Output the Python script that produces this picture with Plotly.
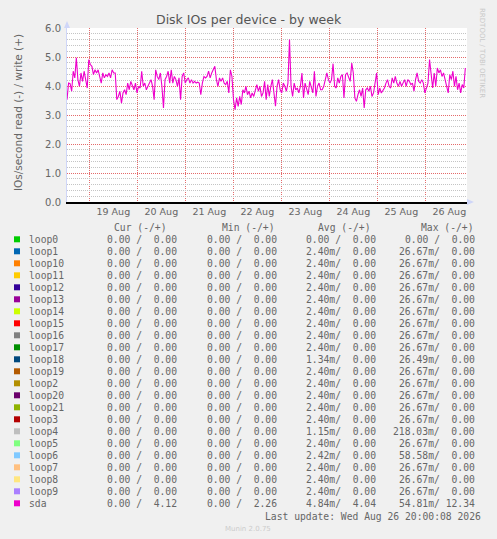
import pandas as pd
import plotly.graph_objects as go

# sda write IOs/second (read side is ~0 for every device)
sda_write = [
    3.53, 4.10, 4.08, 3.82, 4.51, 4.28, 4.97, 4.22, 3.99, 4.45, 4.16, 4.51, 4.22, 3.93,
    4.91, 4.74, 4.68, 4.39, 4.56, 4.45, 4.56, 4.28, 4.10, 4.45, 4.28, 4.39, 4.33, 4.45,
    4.28, 4.56, 4.45, 4.45, 3.53, 3.64, 3.82, 3.41, 3.76, 3.87, 3.70, 4.10, 3.87, 4.16,
    3.99, 3.87, 4.10, 3.76, 3.99, 3.93, 4.51, 3.99, 4.10, 3.87, 3.99, 4.10, 4.22, 3.99,
    3.53, 4.56, 4.33, 4.22, 4.45, 3.99, 3.24, 4.22, 4.33, 4.51, 4.10, 4.56, 4.10, 4.33,
    4.22, 3.99, 4.28, 3.53, 4.33, 4.45, 4.10, 4.22, 4.28, 4.10, 4.22,
    4.10, 4.16, 4.10, 4.13, 4.10, 3.70, 4.10, 4.33, 4.28, 4.33, 4.51, 4.28, 4.45, 4.56,
    4.68, 4.22, 3.99, 4.28, 4.16, 4.28, 4.10, 4.05, 4.16, 3.76, 4.56, 4.33, 3.53, 3.18,
    3.59, 3.30, 3.64, 3.36, 3.87, 3.76, 3.99, 3.70, 3.82, 3.59, 3.76, 3.64, 3.87, 4.05,
    3.82, 3.99, 3.64, 3.76, 4.16, 3.53, 4.05, 3.64, 3.99, 4.22, 3.76, 3.30, 3.99, 4.22,
    3.87, 3.76, 4.10, 3.99, 3.82, 4.10, 5.60, 3.99, 3.64, 4.10, 3.87, 3.93, 3.76, 3.99,
    4.45, 3.59, 4.10, 3.87, 3.70, 4.16, 3.93, 3.76, 4.51, 3.64, 3.99, 4.10, 3.87, 3.87,
    3.99, 4.22, 4.45, 4.22, 4.10,
    4.22, 4.77, 3.99, 3.93, 4.28, 4.10, 4.33, 4.39, 3.59, 4.39, 4.45, 4.28, 4.16, 4.79,
    4.45, 3.59, 3.47, 3.70, 3.87, 3.64, 3.93, 3.24, 3.87, 3.93, 3.82, 3.99, 3.64, 3.76,
    4.05, 4.45, 3.70, 3.93, 3.76, 3.87, 3.93, 4.10, 4.22, 3.99, 3.93, 4.28, 4.10, 4.33,
    4.10, 3.99, 4.16, 3.99, 4.10, 4.22, 3.99, 4.22, 4.16, 4.05, 4.10, 3.82, 4.22, 4.45,
    4.16, 4.10, 4.22, 4.10, 3.76, 3.93, 4.10, 4.91, 4.33, 3.93, 4.45, 3.99, 4.62, 4.45,
    4.56, 4.33, 4.45, 4.16, 3.99, 3.76, 4.39, 4.22, 4.51, 3.99, 4.33, 3.87, 4.10, 3.76,
    4.05, 3.93, 4.62,
]

devices = ["loop0", "loop1", "loop10", "loop11", "loop12", "loop13", "loop14", "loop15",
           "loop16", "loop17", "loop18", "loop19", "loop2", "loop20", "loop21", "loop3",
           "loop4", "loop5", "loop6", "loop7", "loop8", "loop9", "sda"]
colors = ["#00CC00", "#0066B3", "#FF8000", "#FFCC00", "#330099", "#990099", "#CCFF00",
          "#FF0000", "#808080", "#008F00", "#00487D", "#B35A00", "#B38F00", "#6B006B",
          "#8FB300", "#B30000", "#BEBEBE", "#80FF80", "#80C9FF", "#FFC080", "#FFE680",
          "#AA80FF", "#EE00CC"]
cur_col = ["0.00 /  0.00"] * 22 + ["0.00 /  4.12"]
min_col = ["0.00 /  0.00"] * 22 + ["0.00 /  2.26"]
avg_col = ["0.00 /  0.00"] + ["2.40m/  0.00"] * 9 + ["1.34m/  0.00"] + ["2.40m/  0.00"] * 5 + \
          ["1.15m/  0.00", "2.40m/  0.00", "2.42m/  0.00", "2.40m/  0.00", "2.40m/  0.00",
           "2.40m/  0.00", "4.84m/  4.04"]
max_col = ["0.00 /  0.00"] + ["26.67m/  0.00"] * 9 + ["26.49m/  0.00"] + ["26.67m/  0.00"] * 5 + \
          ["218.03m/  0.00", "26.67m/  0.00", "58.58m/  0.00", "26.67m/  0.00", "26.67m/  0.00",
           "26.67m/  0.00", "54.81m/ 12.34"]
headers = ["Cur (-/+)", "Min (-/+)", "Avg (-/+)", "Max (-/+)"]

font_col = "#666666"
W, H = 497, 539
L, R, T, B = 67, 467, 28, 202
major_grid = "#E46A6A"
minor_grid = "#C4C4C4"
grid_dash = "1px,1px"
x_range = ["2026-08-18 12:50", "2026-08-26 20:50"]


def px(x):
    return (x - L) / (R - L)


def py(y):
    return (B - y) / (B - T)


def nb(s):
    return s.replace(" ", "\u00a0")


times = pd.date_range("2026-08-18 12:50", "2026-08-26 20:00", periods=len(sda_write))

# minor grid positions (drawn on overlay axes), skipping the major ones
x_minor = [t for t in pd.date_range("2026-08-18 00:00", "2026-08-27 00:00", freq="6h") if t.hour != 0]
y_minor = [round(i * 0.2, 1) for i in range(31) if i % 5 != 0]

fig = go.Figure()
fig.add_trace(go.Scatter(x=[], y=[], xaxis="x2", yaxis="y2", showlegend=False,
                         hoverinfo="skip"))
fig.add_trace(go.Scatter(x=times, y=sda_write, mode="lines",
                         line=dict(color="#EE00CC", width=1.1), showlegend=False))

fig.update_layout(
    width=W, height=H,
    paper_bgcolor="#F0F0F0", plot_bgcolor="#FFFFFF",
    margin=dict(l=L, r=W - R, t=T, b=H - B),
    font=dict(family="DejaVu Sans", color=font_col, size=10),
    showlegend=False,
    xaxis2=dict(
        overlaying="x", range=x_range, tickmode="array", tickvals=x_minor,
        showticklabels=False, ticks="", showgrid=True, gridcolor=minor_grid,
        griddash=grid_dash, gridwidth=1, showline=False, zeroline=False,
    ),
    yaxis2=dict(
        overlaying="y", range=[0, 6], tickmode="array", tickvals=y_minor,
        showticklabels=False, ticks="", showgrid=True, gridcolor=minor_grid,
        griddash=grid_dash, gridwidth=1, showline=False, zeroline=False,
    ),
    xaxis=dict(
        range=x_range,
        tick0="2026-08-19", dtick=86400000, ticklabelmode="period",
        tickformat="%d %b", ticks="", tickfont=dict(size=9.5),
        showgrid=True, gridcolor=major_grid, griddash=grid_dash, gridwidth=1,
        showline=True, linecolor="#000000", linewidth=2, zeroline=False,
    ),
    yaxis=dict(
        range=[0, 6], dtick=1, tickformat=".1f", ticks="outside", ticklen=3,
        tickcolor="rgba(0,0,0,0)", tickfont=dict(size=10),
        showgrid=True, gridcolor=major_grid, griddash=grid_dash, gridwidth=1,
        showline=True, linecolor="#CFD6F8", linewidth=1, zeroline=False,
    ),
)

ann = []
ann.append(dict(text="Disk IOs per device - by week", x=px(249), y=py(19),
                font=dict(size=12.5, color="#555555")))
ann.append(dict(text="IOs/second read (-) / write (+)", x=px(10), y=py(113),
                textangle=-90, font=dict(size=10.5)))
ann.append(dict(text="RRDTOOL / TOBI OETIKER", x=px(488), y=py(53), textangle=90,
                font=dict(size=7, color="#C8C8C8")))
ann.append(dict(text="Munin 2.0.75", x=px(248), y=py(529),
                font=dict(size=7, color="#CCCCCC")))
ann.append(dict(text=nb("Last update: Wed Aug 26 20:00:08 2026"), x=px(483), y=py(516),
                xanchor="right", font=dict(family="DejaVu Sans Mono", size=9.7)))

col_ends = [179, 278.5, 377.5, 477]
head_ends = [169, 277, 373, 476]
for h, xe in zip(headers, head_ends):
    ann.append(dict(text=nb(h), x=px(xe), y=py(227.5), xanchor="right",
                    font=dict(family="DejaVu Sans Mono", size=9.7)))

shapes = []
for i, name in enumerate(devices):
    yc = 239.3 + 12 * i
    shapes.append(dict(type="rect", xref="paper", yref="paper",
                       x0=px(14), x1=px(20), y0=py(yc - 3), y1=py(yc + 3),
                       fillcolor=colors[i], line=dict(width=0)))
    ann.append(dict(text=name, x=px(26.5), y=py(yc), xanchor="left",
                    font=dict(family="DejaVu Sans Mono", size=9.7)))
    for col, xe in zip([cur_col, min_col, avg_col, max_col], col_ends):
        ann.append(dict(text=nb(col[i]), x=px(xe), y=py(yc), xanchor="right",
                        font=dict(family="DejaVu Sans Mono", size=9.7)))

# axis arrows
shapes.append(dict(type="path", xref="paper", yref="paper",
                   path=f"M {px(64)} {py(28)} L {px(70)} {py(28)} L {px(67)} {py(21)} Z",
                   fillcolor="#CFD6F8", line=dict(width=0)))
shapes.append(dict(type="path", xref="paper", yref="paper",
                   path=f"M {px(467)} {py(199)} L {px(467)} {py(205)} L {px(474)} {py(202)} Z",
                   fillcolor="#CFD6F8", line=dict(width=0)))

for a in ann:
    a.setdefault("xref", "paper")
    a.setdefault("yref", "paper")
    a.setdefault("showarrow", False)
    a.setdefault("yanchor", "middle")
fig.update_layout(annotations=ann, shapes=shapes)

fig.write_html("out.html", config={"displayModeBar": False},
               post_script="document.body.style.margin='0px';")
